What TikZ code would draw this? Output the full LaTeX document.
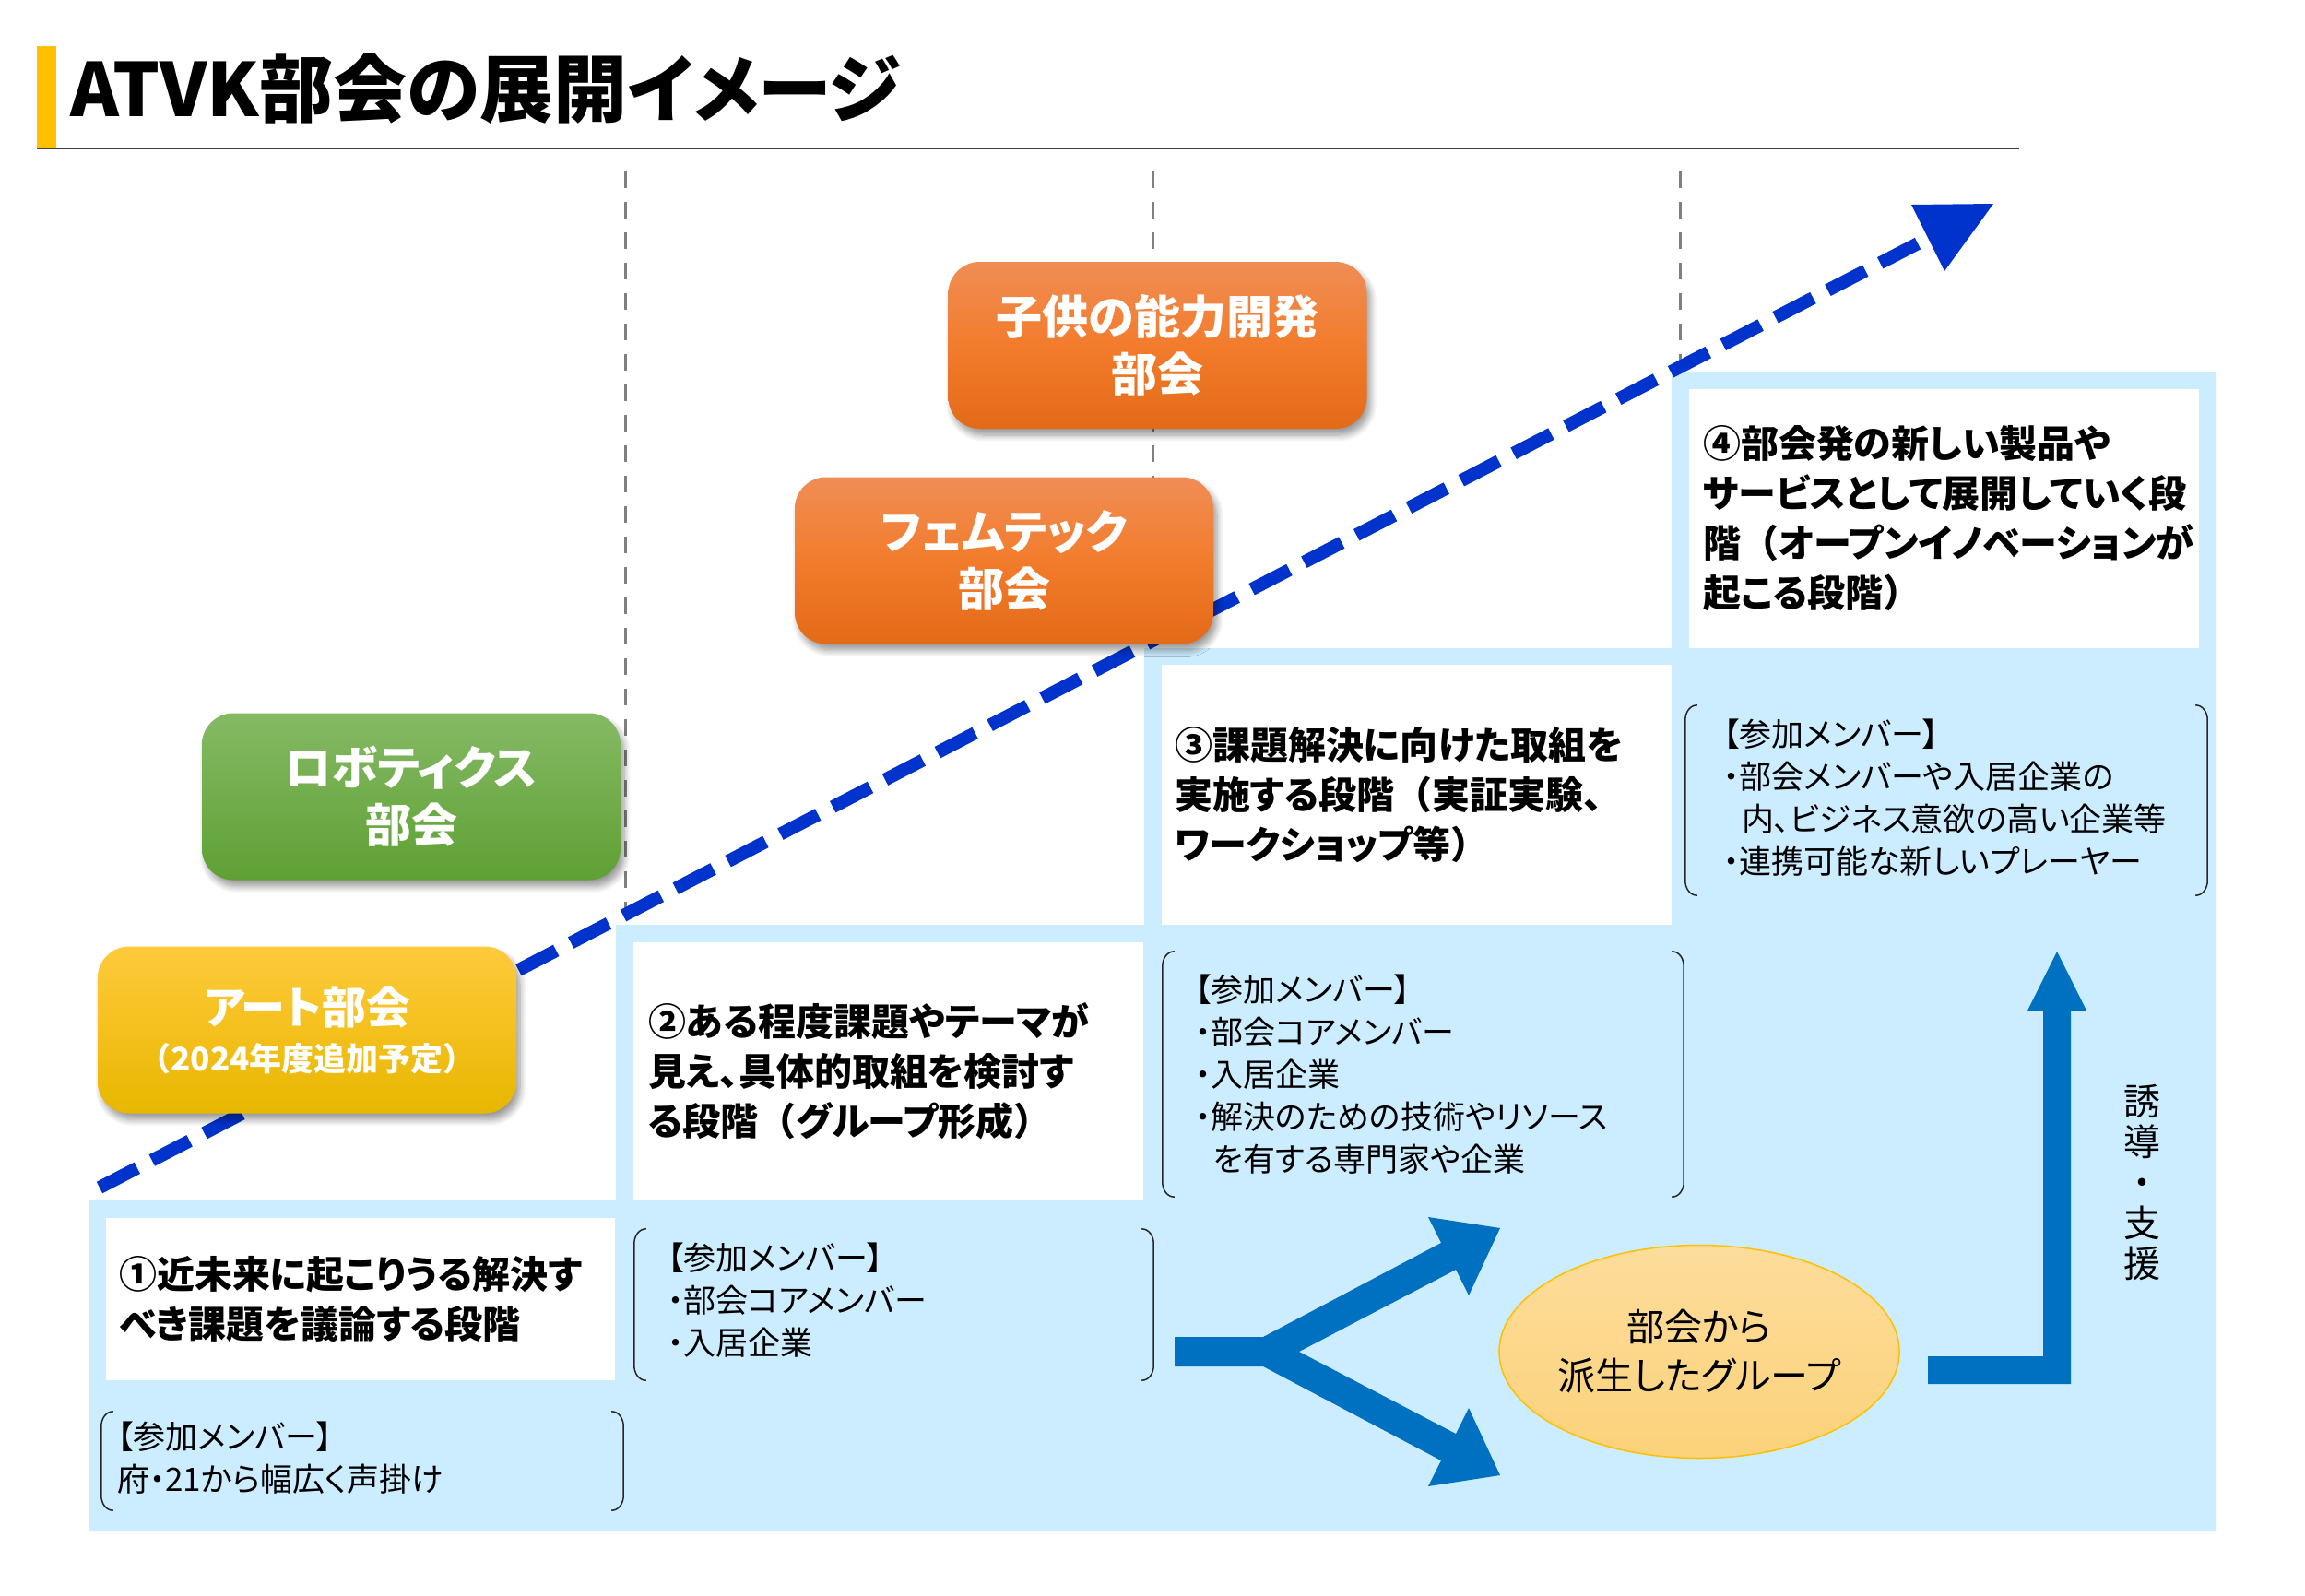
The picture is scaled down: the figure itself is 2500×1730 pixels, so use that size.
\documentclass[tikz,border=0pt]{standalone}
\usepackage{fontspec}
\setmainfont{Noto Sans CJK JP}[RawFeature=+palt]
\newfontfamily\fwfont{Noto Sans CJK JP}
\newcommand\lp{{\fwfont （}}
\newcommand\rp{{\fwfont ）}}
\usetikzlibrary{shapes.geometric,shadows.blur}
\definecolor{lblue}{HTML}{CCECFF}
\definecolor{dblue}{HTML}{0033CC}
\definecolor{ablue}{HTML}{0070C0}
\definecolor{gold}{HTML}{FFC000}
\definecolor{vgray}{HTML}{7F7F7F}
\definecolor{orange1}{HTML}{F08D55}
\definecolor{orange2}{HTML}{F27C2C}
\definecolor{orange3}{HTML}{E36A17}
\definecolor{green1}{HTML}{85BA65}
\definecolor{green2}{HTML}{70AD47}
\definecolor{green3}{HTML}{5FA034}
\definecolor{yel1}{HTML}{FFCA3C}
\definecolor{yel2}{HTML}{FCC400}
\definecolor{yel3}{HTML}{E8B700}
\definecolor{ell1}{HTML}{FDDD9C}
\definecolor{ell2}{HTML}{FCD27A}
\newcommand\brackets[1]{%
 \draw[brk] ([xshift=13pt]#1.north west) to[out=180,in=90] ([yshift=-16pt]#1.north west) -- ([yshift=16pt]#1.south west) to[out=-90,in=180] ([xshift=13pt]#1.south west);
 \draw[brk] ([xshift=-13pt]#1.north east) to[out=0,in=90] ([yshift=-16pt]#1.north east) -- ([yshift=16pt]#1.south east) to[out=-90,in=0] ([xshift=-13pt]#1.south east);}
\tikzset{
 wbox/.style={fill=white, draw=none, inner sep=0pt},
 wtxt/.style={font=\fontsize{41}{54}\selectfont\bfseries, align=left, inner sep=0pt, anchor=west},
 mbox/.style={draw=none, inner sep=0pt},
 mtxt/.style={font=\fontsize{35}{46}\selectfont, align=left, inner sep=0pt, anchor=west},
 brk/.style={line width=1.5pt, draw=black!85},
 vline/.style={draw=vgray, line width=3pt, dash pattern=on 18pt off 15pt},
 dline/.style={draw=dblue, line width=14pt, dash pattern=on 46pt off 18pt},
 club/.style={rounded corners=34pt, minimum width=454pt, minimum height=181pt, inner sep=0pt,
   text=white, font=\bfseries\fontsize{50}{62}\selectfont, align=center,
   blur shadow={shadow xshift=4pt, shadow yshift=-7pt, shadow blur radius=7pt, shadow blur steps=8, shadow opacity=40}},
 orangeclub/.style={club, top color=orange1, bottom color=orange3, middle color=orange2},
}
\begin{document}
\begin{tikzpicture}[x=1pt,y=-1pt]
\useasboundingbox (0,0) rectangle (2500,1730);
% title
\fill[gold] (40,50) rectangle (61,160);
\node[anchor=west, inner sep=0pt, font=\bfseries\fontsize{80}{80}\selectfont] (title) at (76,96) {ATVK部会の展開イメージ};
\draw[line width=2.5pt, black!75] (40,161) -- (2190,161);
% light blue staircase
\fill[lblue] (96,1661) -- (2404,1661) -- (2404,403) -- (1813,403) -- (1813,703) -- (1241,703) -- (1241,1003) -- (668,1003) -- (668,1302) -- (96,1302) -- cycle;
% white boxes
\node[wbox, minimum width=552pt, minimum height=176pt] (w1) at (391,1409) {};
\node[wbox, minimum width=553pt, minimum height=280pt] (w2) at (963.5,1162) {};
\node[wbox, minimum width=553pt, minimum height=282pt] (w3) at (1536.5,862) {};
\node[wbox, minimum width=553pt, minimum height=281pt] (w4) at (2108.5,562.5) {};
\node[wtxt] (w1t) at ([xshift=14pt]w1.west) {①近未来に起こりうる解決す\\べき課題を議論する段階};
\node[wtxt] (w2t) at ([xshift=16pt]w2.west) {②ある程度課題やテーマが\\見え、具体的取組を検討す\\る段階\lp グループ形成\rp};
\node[wtxt] (w3t) at ([xshift=14pt]w3.west) {③課題解決に向けた取組を\\実施する段階\lp 実証実験、\\ワークショップ等\rp};
\node[wtxt] (w4t) at ([xshift=15pt]w4.west) {④部会発の新しい製品や\\サービスとして展開していく段\\階\lp オープンイノベーションが\\起こる段階\rp};
% vertical dashed lines
\coordinate (v1t) at (678,186); \coordinate (v1b) at (678,1003);
\coordinate (v2t) at (1250,186); \coordinate (v2b) at (1250,703);
\coordinate (v3t) at (1822,186); \coordinate (v3b) at (1822,403);
\draw[vline] (v1t) -- (v1b);
\draw[vline] (v2t) -- (v2b);
\draw[vline] (v3t) -- (v3b);
% member brackets
\node[mbox, minimum width=566pt, minimum height=107pt] (m1) at (393,1584.5) {};
\node[mbox, minimum width=563pt, minimum height=164pt] (m2) at (969.5,1415) {};
\node[mbox, minimum width=565pt, minimum height=266pt] (m3) at (1543.5,1165) {};
\node[mbox, minimum width=566pt, minimum height=206pt] (m4) at (2111,868) {};
\brackets{m1}\brackets{m2}\brackets{m3}\brackets{m4}
\node[mtxt] (m1t) at ([xshift=17pt,yshift=3pt]m1.west) {【参加メンバー】\\府・21から幅広く声掛け};
\node[mtxt] (m2t) at ([xshift=36pt,yshift=5pt]m2.west) {【参加メンバー】\\・部会コアメンバー\\・入居企業};
\node[mtxt] (m3t) at ([xshift=35pt]m3.west) {【参加メンバー】\\・部会コアメンバー\\・入居企業\\・解決のための技術やリソース\\\hspace*{20pt}を有する専門家や企業};
\node[mtxt] (m4t) at ([xshift=41pt,yshift=3pt]m4.west) {【参加メンバー】\\・部会メンバーや入居企業の\\\hspace*{20pt}内、ビジネス意欲の高い企業等\\・連携可能な新しいプレーヤー};
% fork arrow
\fill[ablue] (1274,1450) -- (1370,1450) -- (1563,1348) -- (1549,1320) -- (1627,1332) -- (1593,1405) -- (1579,1377) -- (1409,1466)
  -- (1579,1555) -- (1593,1527) -- (1627,1600) -- (1549,1612) -- (1563,1584) -- (1370,1482) -- (1274,1482) -- cycle;
% ellipse
\node[ellipse, minimum width=428pt, minimum height=231pt, top color=ell1, bottom color=ell2, draw=gold, line width=1.5pt,
  font=\fontsize{41}{53}\selectfont, align=center, inner sep=0pt] (grp) at (1843,1466) {部会から\\派生したグループ};
% L arrow
\fill[ablue] (2091,1471) -- (2216,1471) -- (2216,1096) -- (2199,1096) -- (2231,1032) -- (2263,1096) -- (2246,1096) -- (2246,1501) -- (2091,1501) -- cycle;
\node[font=\fontsize{40}{44}\selectfont, align=center, inner sep=0pt] (yudo) at (2323,1282) {誘\\導\\・\\支\\援};
% diagonal dashed arrow
\coordinate (ds) at (108,1288);
\coordinate (de) at (2086,261);
\coordinate (dt) at (2162,221);
\draw[dline] (ds) -- (de);
\fill[dblue] (dt) -- (2073,222) -- (2109,294) -- cycle;
% clubs
\node[orangeclub] (kodomo) at (1255.5,374.5) {子供の能力開発\\部会};
\node[orangeclub] (femtech) at (1089,608) {フェムテック\\部会};
\node[club, top color=green1, middle color=green2, bottom color=green3] (robot) at (446,864) {ロボティクス\\部会};
\node[club, top color=yel1, middle color=yel2, bottom color=yel3, font=\bfseries\fontsize{35}{51}\selectfont] (art) at (333,1117) {{\fontsize{48}{51}\selectfont アート部会}\\\lp 2024年度追加予定\rp};
\end{tikzpicture}
\end{document}
